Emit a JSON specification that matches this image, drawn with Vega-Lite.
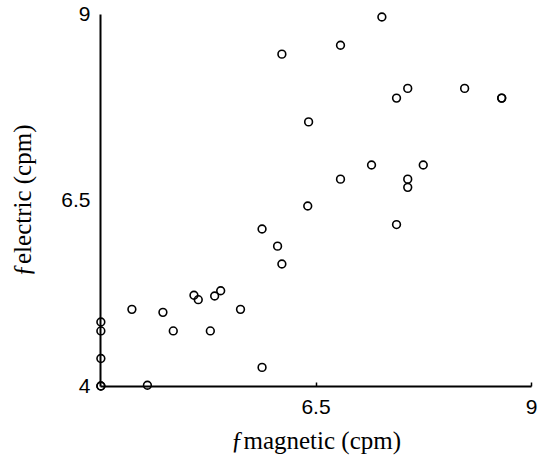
{
  "$schema": "https://vega.github.io/schema/vega-lite/v6.json",
  "width": 431,
  "height": 372,
  "autosize": {"type": "none"},
  "padding": {"left": 100, "top": 14, "right": 10, "bottom": 80},
  "background": "white",
  "config": {"view": {"stroke": null}},
  "data": {
    "values": [
      {"m": 4.01, "e": 4.86},
      {"m": 4.01, "e": 4.74},
      {"m": 4.01, "e": 4.37},
      {"m": 4.01, "e": 4.0},
      {"m": 4.01, "e": 4.0},
      {"m": 4.55, "e": 4.01},
      {"m": 4.37, "e": 5.03},
      {"m": 4.73, "e": 4.99},
      {"m": 4.85, "e": 4.74},
      {"m": 5.09, "e": 5.22},
      {"m": 5.14, "e": 5.16},
      {"m": 5.33, "e": 5.21},
      {"m": 5.40, "e": 5.28},
      {"m": 5.28, "e": 4.74},
      {"m": 5.63, "e": 5.03},
      {"m": 5.88, "e": 4.25},
      {"m": 6.41, "e": 6.42},
      {"m": 5.88, "e": 6.11},
      {"m": 6.06, "e": 5.88},
      {"m": 6.11, "e": 5.64},
      {"m": 7.27, "e": 8.96},
      {"m": 6.79, "e": 8.58},
      {"m": 6.11, "e": 8.46},
      {"m": 7.57, "e": 8.0},
      {"m": 7.44, "e": 7.87},
      {"m": 8.23, "e": 8.0},
      {"m": 8.66, "e": 7.87},
      {"m": 8.66, "e": 7.87},
      {"m": 6.42, "e": 7.55},
      {"m": 7.15, "e": 6.97},
      {"m": 7.75, "e": 6.97},
      {"m": 6.79, "e": 6.78},
      {"m": 7.57, "e": 6.78},
      {"m": 7.57, "e": 6.67},
      {"m": 7.44, "e": 6.17}
    ]
  },
  "mark": {"type": "point", "shape": "circle", "filled": false, "stroke": "black", "strokeWidth": 1.6, "size": 60, "opacity": 1},
  "encoding": {
    "x": {
      "field": "m", "type": "quantitative",
      "scale": {"domain": [4, 9], "nice": false, "zero": false},
      "axis": {
        "values": [6.5, 9], "grid": false, "domainColor": "black", "domainWidth": 2,
        "ticks": true, "tickSize": -4, "tickColor": "black", "tickWidth": 1.5,
        "labelFont": "Liberation Sans", "labelFontSize": 21, "labelColor": "black", "labelPadding": 14,
        "labelFlush": false, "format": ".1~f",
        "title": "ƒmagnetic (cpm)", "titleFont": "Liberation Serif", "titleFontWeight": "normal",
        "titleFontSize": 25, "titleColor": "black", "titleY": 54, "titleBaseline": "middle"
      }
    },
    "y": {
      "field": "e", "type": "quantitative",
      "scale": {"domain": [4, 9], "nice": false, "zero": false},
      "axis": {
        "values": [4, 6.5, 9], "grid": false, "domainColor": "black", "domainWidth": 2,
        "ticks": false, "labelFont": "Liberation Sans", "labelFontSize": 21, "labelColor": "black",
        "labelPadding": 10, "labelFlush": false, "format": ".1~f",
        "title": "ƒelectric (cpm)", "titleFont": "Liberation Serif", "titleFontWeight": "normal",
        "titleFontSize": 25, "titleColor": "black", "titleX": -78, "titleY": 186, "titleBaseline": "middle", "titleAlign": "center", "titleAngle": -90
      }
    }
  }
}
